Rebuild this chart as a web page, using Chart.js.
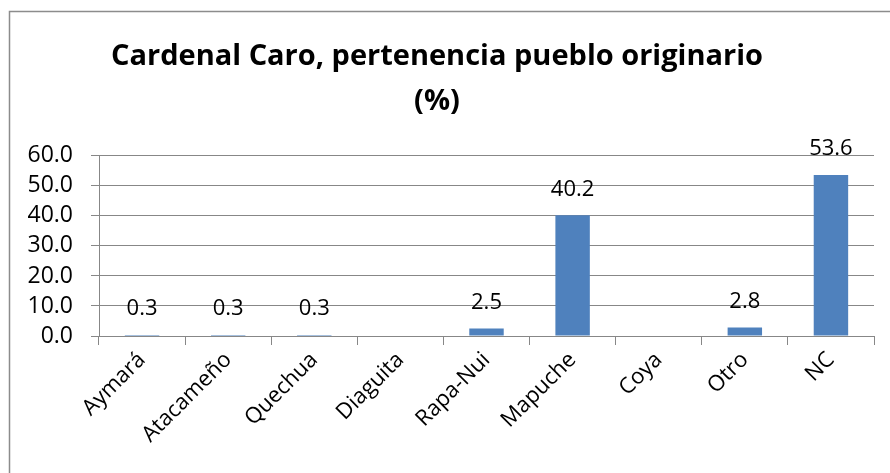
<!DOCTYPE html>
<html>
<head>
<meta charset="utf-8">
<script src="https://cdn.jsdelivr.net/npm/chart.js@4"></script>
<style>
  html, body { margin: 0; padding: 0; background: #fff; }
  #wrap { width: 890px; height: 473px; position: relative; }
</style>
</head>
<body>
<div id="wrap"><canvas id="puebloChart"></canvas></div>
<script>
// Data
const categories = ['Aymará', 'Atacameño', 'Quechua', 'Diaguita', 'Rapa-Nui', 'Mapuche', 'Coya', 'Otro', 'NC'];
const percentValues = [0.3, 0.3, 0.3, null, 2.5, 40.2, null, 2.8, 53.6];
const yTicks = [0, 10, 20, 30, 40, 50, 60];
const titleLines = ['Cardenal Caro, pertenencia pueblo originario', '(%)'];

const FONT = "'Open Sans', 'Noto Sans', sans-serif";
const GRID = '#878787';

// Frame lines (only top and left are visible in the picture)
const framePlugin = {
  id: 'frame',
  beforeDraw: (chart) => {
    const { ctx, width, height } = chart;
    ctx.save();
    ctx.strokeStyle = '#8c8c8c';
    ctx.lineWidth = 1.5;
    ctx.beginPath();
    ctx.moveTo(9.5, height);
    ctx.lineTo(9.5, 11.5);
    ctx.lineTo(width, 11.5);
    ctx.stroke();
    ctx.restore();
  }
};

// Value labels above each bar
const valueLabelPlugin = {
  id: 'valueLabels',
  afterDatasetsDraw: (chart) => {
    const { ctx } = chart;
    const meta = chart.getDatasetMeta(0);
    ctx.save();
    ctx.font = `22px ${FONT}`;
    ctx.fillStyle = '#000';
    ctx.textAlign = 'center';
    ctx.textBaseline = 'middle';
    meta.data.forEach((bar, i) => {
      const v = percentValues[i];
      if (v === null) return;
      ctx.fillText(v.toFixed(1), bar.x, bar.y - 26);
    });
    ctx.restore();
  }
};

const ctx = document.getElementById('puebloChart').getContext('2d');
const puebloChart = new Chart(ctx, {
  type: 'bar',
  data: {
    labels: categories,
    datasets: [{
      data: percentValues,
      backgroundColor: '#4F81BD',
      borderWidth: 0,
      categoryPercentage: 1.0,
      barPercentage: 0.4
    }]
  },
  options: {
    responsive: true,
    maintainAspectRatio: false,
    animation: false,
    layout: { padding: { left: 0, right: 16, top: 0, bottom: 0 } },
    scales: {
      x: {
        grid: { display: true, drawOnChartArea: false, color: GRID, tickLength: 9, offset: true },
        border: { display: true, color: GRID, width: 1 },
        ticks: {
          color: '#000',
          font: { family: FONT, size: 22 },
          minRotation: 45,
          maxRotation: 45,
          autoSkip: false,
          padding: 2
        },
        afterFit: (scale) => { scale.height = 137; }
      },
      y: {
        min: 0,
        max: 60,
        afterBuildTicks: (scale) => { scale.ticks = yTicks.map(v => ({ value: v })); },
        grid: { color: GRID, tickLength: 8 },
        border: { display: true, color: GRID, width: 1 },
        ticks: {
          color: '#000',
          font: { family: FONT, size: 23 },
          padding: 18,
          autoSkip: false,
          callback: (v) => Number(v).toFixed(1)
        },
        afterFit: (scale) => { scale.width = 99; }
      }
    },
    plugins: {
      legend: { display: false },
      tooltip: { enabled: false },
      title: {
        display: true,
        text: titleLines,
        color: '#000',
        font: { family: FONT, size: 29, weight: 'bold', lineHeight: 1.55 },
        padding: { top: 34, bottom: 32 }
      }
    }
  },
  plugins: [framePlugin, valueLabelPlugin]
});
</script>
</body>
</html>
